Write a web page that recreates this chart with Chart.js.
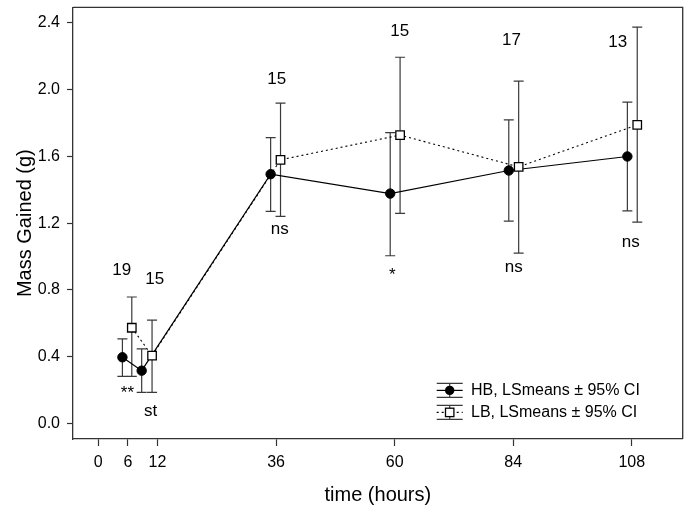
<!DOCTYPE html>
<html>
<head>
<meta charset="utf-8">
<script src="https://cdn.jsdelivr.net/npm/chart.js@4"></script>
<style>
  html, body { margin: 0; padding: 0; background: #fff; }
</style>
</head>
<body>
<canvas id="myChart" width="690" height="512"></canvas>
<script>
// tiempos (desplazados un poco para que no se encimen las barras)
const hbTimes = [4.9, 8.8, 34.9, 59.1, 83.1, 107.1];
const hbMeans = [0.397, 0.317, 1.493, 1.377, 1.515, 1.599];
const hbLower = [0.283, 0.187, 1.270, 1.005, 1.212, 1.274];
const hbUpper = [0.507, 0.447, 1.712, 1.742, 1.818, 1.924];

const lbTimes = [6.8, 10.9, 36.9, 61.1, 85.1, 109.1];
const lbMeans = [0.574, 0.407, 1.579, 1.727, 1.537, 1.788];
const lbLower = [0.283, 0.187, 1.240, 1.258, 1.021, 1.206];
const lbUpper = [0.758, 0.620, 1.918, 2.193, 2.050, 2.373];

const seriesNames = ['HB, LSmeans \u00b1 95% CI', 'LB, LSmeans \u00b1 95% CI'];

const xTicks = [0, 6, 12, 36, 60, 84, 108];
const yTicks = [0.0, 0.4, 0.8, 1.2, 1.6, 2.0, 2.4];

// textos: tamanos de muestra y significancia
const noteTexts = ['19', '15', '**', 'st', '15', 'ns', '15', '*', '17', 'ns', '13', 'ns'];
const noteX = [4.76, 11.43, 5.91, 10.63, 36.13, 36.74, 61.03, 59.55, 83.65, 84.1, 105.16, 107.79];
const noteY = [0.891, 0.837, 0.155, 0.048, 2.033, 1.136, 2.321, 0.857, 2.267, 0.909, 2.257, 1.058];

const FONT = 'Liberation Sans, Arial, sans-serif';
const barColor = '#3a3a3a';

function toPoints(xs, ys) {
  return xs.map((v, i) => ({ x: v, y: ys[i] }));
}

// barras de error (IC 95%)
const errorBars = {
  id: 'errorBars',
  beforeDatasetsDraw(chart) {
    const { ctx, scales: { x, y } } = chart;
    ctx.save();
    ctx.strokeStyle = barColor;
    ctx.lineWidth = 1.2;
    const draw = (times, lo, hi) => {
      times.forEach((t, i) => {
        const px = x.getPixelForValue(t);
        const y1 = y.getPixelForValue(lo[i]);
        const y2 = y.getPixelForValue(hi[i]);
        ctx.beginPath();
        ctx.moveTo(px, y1); ctx.lineTo(px, y2);
        ctx.moveTo(px - 5, y1); ctx.lineTo(px + 5, y1);
        ctx.moveTo(px - 5, y2); ctx.lineTo(px + 5, y2);
        ctx.stroke();
      });
    };
    draw(hbTimes, hbLower, hbUpper);
    draw(lbTimes, lbLower, lbUpper);
    ctx.restore();
  }
};

// marco arriba y a la derecha
const frame = {
  id: 'frame',
  afterDraw(chart) {
    const { ctx, chartArea: a } = chart;
    ctx.save();
    ctx.strokeStyle = '#333';
    ctx.lineWidth = 1.3;
    ctx.beginPath();
    ctx.moveTo(a.left, a.top);
    ctx.lineTo(a.right, a.top);
    ctx.lineTo(a.right, a.bottom);
    ctx.stroke();
    ctx.restore();
  }
};

// anotaciones
const notes = {
  id: 'notes',
  afterDraw(chart) {
    const { ctx, scales: { x, y } } = chart;
    ctx.save();
    ctx.fillStyle = '#000';
    ctx.font = '17px ' + FONT;
    ctx.textAlign = 'center';
    ctx.textBaseline = 'alphabetic';
    noteTexts.forEach((t, i) => {
      ctx.fillText(t, x.getPixelForValue(noteX[i]), y.getPixelForValue(noteY[i]));
    });
    ctx.restore();
  }
};

// leyenda dentro del area
const legendBox = {
  id: 'legendBox',
  afterDraw(chart) {
    const { ctx, chartArea: a } = chart;
    const x0 = a.right - 246;
    const x1 = a.right - 220;
    const xm = (x0 + x1) / 2;
    const rows = [a.bottom - 48.6, a.bottom - 26.6];
    ctx.save();
    rows.forEach((ry, i) => {
      ctx.strokeStyle = barColor;
      ctx.lineWidth = 1.2;
      ctx.beginPath();
      ctx.moveTo(x0, ry - 7); ctx.lineTo(x1, ry - 7);
      ctx.moveTo(x0, ry + 7); ctx.lineTo(x1, ry + 7);
      ctx.moveTo(xm, ry - 7); ctx.lineTo(xm, ry + 7);
      ctx.stroke();
      ctx.strokeStyle = '#000';
      ctx.setLineDash(i === 0 ? [] : [2, 3]);
      ctx.beginPath();
      ctx.moveTo(x0, ry); ctx.lineTo(x1, ry);
      ctx.stroke();
      ctx.setLineDash([]);
      if (i === 0) {
        ctx.fillStyle = '#000';
        ctx.beginPath();
        ctx.arc(xm, ry, 4.7, 0, Math.PI * 2);
        ctx.fill();
      } else {
        ctx.fillStyle = '#fff';
        ctx.lineWidth = 1.3;
        ctx.fillRect(xm - 4.2, ry - 4.2, 8.4, 8.4);
        ctx.strokeRect(xm - 4.2, ry - 4.2, 8.4, 8.4);
      }
      ctx.fillStyle = '#000';
      ctx.font = '16px ' + FONT;
      ctx.textAlign = 'left';
      ctx.textBaseline = 'middle';
      ctx.fillText(seriesNames[i], a.right - 211.7, ry);
    });
    ctx.restore();
  }
};

const data = {
  datasets: [
    {
      label: seriesNames[0],
      data: toPoints(hbTimes, hbMeans),
      borderColor: '#000',
      borderWidth: 1.2,
      pointStyle: 'circle',
      pointRadius: 4.7,
      pointBackgroundColor: '#000',
      pointBorderColor: '#000',
      pointBorderWidth: 1,
      tension: 0,
      order: 2
    },
    {
      label: seriesNames[1],
      data: toPoints(lbTimes, lbMeans),
      borderColor: '#000',
      borderWidth: 1.1,
      borderDash: [2, 3],
      pointStyle: 'rect',
      pointRadius: 6,
      pointBackgroundColor: '#fff',
      pointBorderColor: '#000',
      pointBorderWidth: 1.3,
      tension: 0,
      order: 1
    }
  ]
};

const config = {
  type: 'line',
  data,
  options: {
    responsive: false,
    animation: false,
    layout: { padding: { top: 7, right: 7, left: 0, bottom: 0 } },
    plugins: {
      legend: { display: false },
      tooltip: { enabled: false }
    },
    scales: {
      x: {
        type: 'linear',
        min: -5.1,
        max: 118.3,
        afterBuildTicks: s => { s.ticks = xTicks.map(v => ({ value: v })); },
        afterFit: s => { s.height = 73; s.paddingLeft = 0; s.paddingRight = 0; },
        grid: { drawOnChartArea: false, drawTicks: true, tickLength: 7, color: '#333', tickWidth: 1.2 },
        border: { display: true, color: '#333', width: 1.3 },
        ticks: {
          color: '#000',
          font: { family: FONT, size: 16 },
          padding: 7,
          maxRotation: 0,
          autoSkip: false,
          callback: v => String(v)
        },
        title: {
          display: true,
          text: 'time (hours)',
          color: '#000',
          font: { family: FONT, size: 20 },
          padding: { top: 0, bottom: 5 }
        }
      },
      y: {
        min: -0.092,
        max: 2.492,
        afterBuildTicks: s => { s.ticks = yTicks.map(v => ({ value: v })); },
        afterFit: s => { s.width = 73; s.paddingTop = 0; s.paddingBottom = 0; },
        grid: { drawOnChartArea: false, drawTicks: true, tickLength: 6, color: '#333', tickWidth: 1.2 },
        border: { display: true, color: '#333', width: 1.3 },
        ticks: {
          color: '#000',
          font: { family: FONT, size: 16 },
          padding: 7,
          callback: v => Number(v).toFixed(1)
        },
        title: {
          display: true,
          text: 'Mass Gained (g)',
          color: '#000',
          font: { family: FONT, size: 20 },
          padding: { top: 13, bottom: 0 }
        }
      }
    }
  },
  plugins: [errorBars, frame, notes, legendBox]
};

const myChart = new Chart(document.getElementById('myChart'), config);
</script>
</body>
</html>
